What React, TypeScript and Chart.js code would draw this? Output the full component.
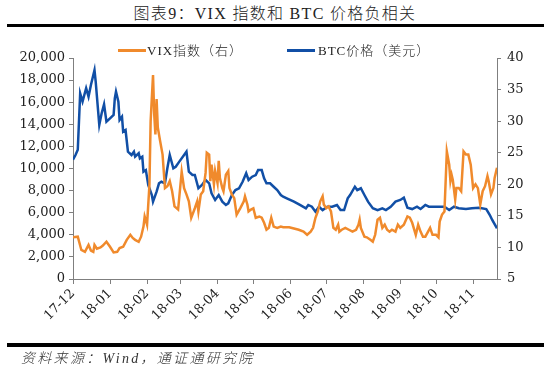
import React, { useEffect, useRef } from "react";
import { Chart, registerables } from "chart.js";

Chart.register(...registerables);

// Day offsets counted from 2017-12-01
const monthStartDays = [0, 31, 62, 90, 121, 151, 182, 212, 243, 274, 304, 335];
const monthLabels = ["17-12", "18-01", "18-02", "18-03", "18-04", "18-05", "18-06", "18-07", "18-08", "18-09", "18-10", "18-11"];
const lastDay = 355;

const btcDays = [0, 2, 4, 6, 8, 11, 13, 15, 18, 19, 22, 24, 26, 28, 31, 34, 35, 36, 38, 39, 41, 42, 44, 46, 49, 51, 52, 55, 56, 58, 59, 61, 63, 66, 67, 70, 72, 74, 77, 79, 81, 84, 86, 89, 93, 95, 97, 100, 102, 105, 108, 111, 114, 116, 119, 122, 125, 128, 130, 133, 136, 139, 142, 145, 147, 150, 153, 155, 158, 160, 162, 165, 168, 171, 174, 176, 179, 185, 190, 195, 197, 200, 203, 206, 209, 213, 217, 221, 224, 227, 230, 232, 236, 238, 241, 244, 247, 251, 255, 259, 262, 266, 270, 274, 277, 280, 284, 288, 291, 295, 298, 302, 306, 311, 315, 319, 323, 329, 334, 340, 346, 349, 351, 355];
const btcPrice = [10800, 11200, 11700, 16800, 16050, 17260, 16500, 17560, 18900, 17860, 13940, 15000, 15810, 14240, 14540, 14840, 16350, 16950, 16050, 14390, 14690, 13330, 13480, 11520, 11220, 11520, 11070, 11380, 10920, 11070, 9710, 9860, 8510, 7600, 7000, 7900, 8660, 8800, 8660, 10020, 11220, 10020, 10160, 10620, 11220, 11520, 9710, 9410, 9410, 8210, 8510, 8960, 8660, 7760, 7150, 7600, 7000, 6700, 6850, 7600, 8050, 8210, 8800, 9570, 8960, 9260, 9410, 9860, 9860, 9110, 8660, 8660, 8350, 8050, 7600, 7450, 7300, 7000, 6700, 6400, 6700, 6540, 6090, 6540, 6240, 6540, 6540, 6700, 6240, 6240, 7300, 7600, 8350, 8050, 8210, 7600, 7000, 6400, 6240, 6400, 6240, 6540, 7000, 7150, 7360, 6450, 6330, 6540, 6330, 6700, 6540, 6540, 6540, 6540, 6240, 6540, 6400, 6330, 6400, 6450, 6330, 5790, 5340, 4590];

const vixDays = [0, 4, 7, 10, 13, 15, 17, 18, 20, 23, 25, 28, 31, 34, 37, 39, 42, 45, 48, 50, 52, 55, 57, 59, 60, 62, 64, 65, 67, 68, 69, 70, 71, 73, 75, 77, 79, 81, 83, 85, 88, 91, 93, 95, 97, 99, 101, 102, 104, 105, 107, 109, 111, 112, 114, 115, 116, 118, 119, 121, 122, 123, 125, 126, 128, 130, 131, 133, 135, 137, 140, 143, 144, 146, 147, 149, 151, 153, 156, 158, 160, 162, 164, 166, 168, 171, 174, 176, 181, 185, 189, 193, 196, 199, 201, 203, 205, 207, 209, 210, 212, 214, 216, 218, 220, 222, 223, 225, 228, 231, 234, 237, 239, 240, 241, 244, 246, 249, 251, 253, 255, 257, 259, 261, 263, 265, 267, 270, 272, 274, 277, 280, 282, 284, 287, 289, 291, 293, 295, 299, 301, 304, 306, 307, 309, 311, 313, 315, 316, 317, 318, 320, 321, 323, 325, 327, 329, 331, 333, 335, 337, 339, 341, 343, 345, 347, 348, 350, 352, 353, 355];
const vixValue = [11.6, 11.7, 9.6, 9.3, 10.4, 9.5, 9.3, 10.4, 9.8, 10.0, 10.3, 10.9, 10.1, 9.2, 9.3, 9.9, 10.1, 11.2, 12.0, 11.5, 11.2, 10.9, 11.7, 13.3, 14.9, 13.6, 19.9, 30.0, 37.3, 31.1, 27.9, 33.5, 29.0, 26.8, 24.7, 19.4, 19.7, 20.5, 18.9, 16.5, 16.0, 22.0, 19.4, 18.4, 17.3, 14.7, 15.7, 16.2, 17.3, 15.7, 18.4, 18.9, 21.8, 25.0, 24.7, 20.5, 23.1, 20.0, 22.1, 20.2, 23.7, 21.0, 19.4, 18.9, 21.5, 22.1, 19.4, 18.4, 17.8, 15.2, 16.2, 17.3, 18.1, 16.8, 15.7, 16.0, 16.2, 14.7, 14.9, 14.7, 13.9, 12.8, 13.1, 14.7, 13.3, 13.1, 13.3, 13.2, 13.2, 13.0, 12.8, 12.5, 12.0, 12.5, 13.1, 14.7, 15.7, 17.3, 18.1, 16.8, 16.2, 16.5, 15.7, 13.1, 12.8, 13.6, 12.5, 12.8, 13.1, 12.8, 12.5, 12.8, 13.6, 14.4, 13.1, 11.7, 11.6, 11.2, 10.9, 12.0, 14.4, 14.7, 13.1, 13.6, 12.8, 12.5, 12.8, 12.5, 13.6, 13.1, 13.6, 14.9, 14.7, 13.9, 12.0, 13.6, 12.5, 11.7, 11.7, 13.1, 12.0, 12.0, 11.6, 14.1, 15.2, 15.7, 25.2, 23.1, 20.5, 21.5, 20.7, 17.6, 19.4, 19.4, 18.9, 25.2, 24.7, 24.7, 23.1, 19.4, 20.0, 19.4, 16.8, 18.9, 19.7, 21.3, 20.5, 18.4, 19.4, 21.0, 22.6];

const leftTicks = { min: 0, max: 20000, step: 2000 };
const rightTicks = { min: 5, max: 40, step: 5 };

const ORANGE = "#F08A2C";
const BLUE = "#114FA6";
const AXIS = "#7f7f7f";
const TEXT = "#222";
const TICK_FONT = { family: '"DejaVu Serif", "Liberation Serif", serif', size: 13 };
const CJK = '"Liberation Serif", "Noto Sans CJK SC", serif';

export default function App() {
  const canvasRef = useRef<HTMLCanvasElement | null>(null);

  useEffect(() => {
    const canvas = canvasRef.current;
    if (!canvas) return;
    const chart = new Chart(canvas, {
      type: "line",
      data: {
        datasets: [
          {
            label: "VIX指数（右）",
            data: vixDays.map((d, i) => ({ x: d, y: vixValue[i] })),
            yAxisID: "y1",
            borderColor: ORANGE,
            backgroundColor: ORANGE,
            borderWidth: 2.5,
            pointRadius: 0,
            tension: 0,
          },
          {
            label: "BTC价格（美元）",
            data: btcDays.map((d, i) => ({ x: d, y: btcPrice[i] })),
            yAxisID: "y",
            borderColor: BLUE,
            backgroundColor: BLUE,
            borderWidth: 2.5,
            pointRadius: 0,
            tension: 0,
          },
        ],
      },
      options: {
        responsive: false,
        animation: false,
        layout: { padding: { top: 58, left: 0, right: 0, bottom: 0 } },
        plugins: { legend: { display: false }, tooltip: { enabled: false } },
        scales: {
          x: {
            type: "linear",
            min: 0,
            max: lastDay,
            afterBuildTicks: (s: any) => {
              s.ticks = monthStartDays.map((v) => ({ value: v }));
            },
            afterFit: (s: any) => {
              s.height = 94;
            },
            ticks: {
              autoSkip: false,
              minRotation: 45,
              maxRotation: 45,
              padding: 2,
              color: TEXT,
              font: TICK_FONT,
              callback: (v: any) => {
                const i = monthStartDays.indexOf(Number(v));
                return i >= 0 ? monthLabels[i] : "";
              },
            },
            grid: { drawOnChartArea: false, drawTicks: true, tickLength: 5, color: AXIS },
            border: { display: true, color: AXIS, width: 1 },
          },
          y: {
            position: "left",
            min: leftTicks.min,
            max: leftTicks.max,
            afterFit: (s: any) => {
              s.width = 73;
            },
            ticks: {
              stepSize: leftTicks.step,
              padding: 4,
              color: TEXT,
              font: TICK_FONT,
              callback: (v: any) => Number(v).toLocaleString("en-US"),
            },
            grid: { drawOnChartArea: false, drawTicks: true, tickLength: 4, color: AXIS },
            border: { display: true, color: AXIS, width: 1 },
          },
          y1: {
            position: "right",
            min: rightTicks.min,
            max: rightTicks.max,
            afterFit: (s: any) => {
              s.width = 53;
            },
            ticks: {
              stepSize: rightTicks.step,
              padding: 6,
              color: TEXT,
              font: TICK_FONT,
            },
            grid: { drawOnChartArea: false, drawTicks: true, tickLength: 4, color: AXIS },
            border: { display: true, color: AXIS, width: 1 },
          },
        },
      },
    } as any);
    return () => chart.destroy();
  }, []);

  const abs = (s: React.CSSProperties): React.CSSProperties => ({ position: "absolute", ...s });

  return (
    <div style={{ position: "absolute", left: 0, top: 0, width: 550, height: 373, background: "#fff", overflow: "hidden" }}>
      <div
        style={abs({
          left: 0,
          top: 4,
          width: 550,
          textAlign: "center",
          fontFamily: CJK,
          fontSize: 16,
          fontWeight: 300,
          lineHeight: "20px",
          letterSpacing: 1.3,
          color: TEXT,
          whiteSpace: "nowrap",
        })}
      >
        图表9：VIX 指数和 BTC 价格负相关
      </div>
      <div style={abs({ left: 7, top: 24, width: 537, height: 3, background: "#000" })} />
      <canvas ref={canvasRef} width={550} height={373} style={abs({ left: 0, top: 0, width: 550, height: 373 })} />
      <div style={abs({ left: 118, top: 49, width: 28, height: 3, background: ORANGE })} />
      <div style={abs({ left: 147, top: 42, fontFamily: CJK, fontSize: 13, fontWeight: 300, lineHeight: "18px", letterSpacing: 1, color: TEXT, whiteSpace: "nowrap" })}>
        VIX指数（右）
      </div>
      <div style={abs({ left: 287, top: 49, width: 28, height: 3, background: BLUE })} />
      <div style={abs({ left: 318, top: 42, fontFamily: CJK, fontSize: 13, fontWeight: 300, lineHeight: "18px", letterSpacing: 1, color: TEXT, whiteSpace: "nowrap" })}>
        BTC价格（美元）
      </div>
      <div style={abs({ left: 7, top: 343, width: 537, height: 4, background: "#000" })} />
      <div
        style={abs({
          left: 21,
          top: 350,
          fontFamily: CJK,
          fontStyle: "italic",
          fontWeight: 300,
          fontSize: 14,
          lineHeight: "18px",
          letterSpacing: 2.3,
          color: "#333",
          whiteSpace: "nowrap",
        })}
      >
        资料来源：Wind，通证通研究院
      </div>
    </div>
  );
}
